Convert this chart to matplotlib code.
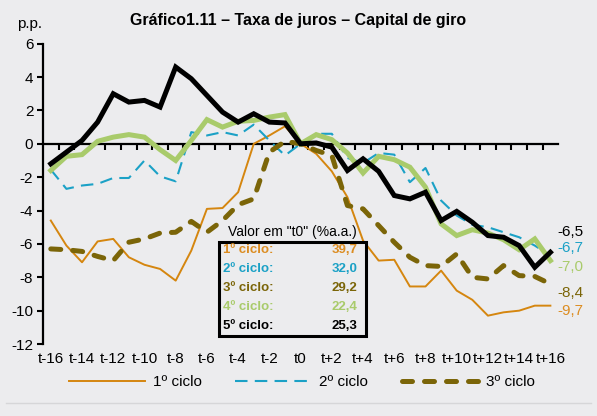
import matplotlib
matplotlib.use("Agg")
import matplotlib.pyplot as plt
from matplotlib.patches import Rectangle
from matplotlib.lines import Line2D
import numpy as np

# ---------------------------------------------------------------------------
# Data (p.p., deviation from value at t0)
# ---------------------------------------------------------------------------
periods = list(range(-16, 17))
tick_labels = ["t-16", "t-14", "t-12", "t-10", "t-8", "t-6", "t-4", "t-2", "t0",
               "t+2", "t+4", "t+6", "t+8", "t+10", "t+12", "t+14", "t+16"]

ciclo1 = [-4.6, -6.1, -7.1, -5.85, -5.7, -6.8, -7.25, -7.5, -8.2, -6.4, -3.9, -3.85,
          -2.9, 0.0, 0.5, 1.05, 0.0, -0.6, -1.65, -3.2, -5.8, -7.0, -6.95, -8.55,
          -8.55, -7.6, -8.8, -9.35, -10.3, -10.1, -10.0, -9.7, -9.7]
ciclo2 = [-1.55, -2.7, -2.5, -2.4, -2.05, -2.05, -1.0, -1.95, -2.25, 0.7, 0.5, 0.7,
          0.5, 1.15, 0.2, -0.7, 0.0, 0.6, 0.6, -0.85, -1.15, -0.55, -0.65, -2.3,
          -1.45, -3.4, -4.3, -4.85, -5.0, -5.3, -5.6, -6.1, -6.7]
ciclo3 = [-6.3, -6.35, -6.45, -6.75, -7.0, -5.9, -5.7, -5.35, -5.3, -4.65, -5.3, -4.6,
          -3.65, -3.3, -0.5, 0.15, 0.0, -0.4, -0.7, -3.7, -3.9, -4.9, -5.9, -6.8,
          -7.3, -7.35, -6.6, -8.0, -8.1, -7.3, -7.9, -7.95, -8.4]
ciclo4 = [-1.6, -0.75, -0.65, 0.15, 0.4, 0.55, 0.4, -0.35, -1.0, 0.2, 1.45, 1.0,
          1.35, 1.4, 1.6, 1.75, 0.0, 0.55, 0.25, -0.55, -1.75, -0.75, -0.95, -1.4,
          -2.6, -4.8, -5.5, -5.15, -5.35, -5.75, -6.35, -5.7, -7.0]
ciclo5 = [-1.2, -0.5, 0.2, 1.3, 3.0, 2.5, 2.6, 2.2, 4.6, 3.9, 2.9, 1.9,
          1.3, 1.8, 1.3, 1.25, 0.0, 0.05, -0.2, -1.6, -0.9, -1.65, -3.1, -3.3,
          -2.9, -4.6, -4.05, -4.7, -5.5, -5.6, -6.1, -7.4, -6.5]

names = ["1º ciclo", "2º ciclo", "3º ciclo", "4º ciclo", "5º ciclo"]
t0_values = ["39,7", "32,0", "29,2", "22,4", "25,3"]

# ---------------------------------------------------------------------------
# Style
# ---------------------------------------------------------------------------
COLORS = ["#D5860F", "#1BA1C6", "#7B6508", "#A9CB6B", "#000000"]
TEXT_COLORS = ["#DC8D22", "#1BA1C6", "#7B6508", "#A9CB6B", "#000000"]
END_LABEL_Y = [-10.05, -6.25, -8.95, -7.4, -5.3]   # label placement (layout only)
BG = "#ECECEE"

plt.rcParams["font.family"] = ["Liberation Sans", "DejaVu Sans"]
plt.rcParams["axes.unicode_minus"] = False

fig = plt.figure(figsize=(5.97, 4.16), dpi=100, facecolor=BG)
ax = fig.add_axes([0.072, 0.173, 0.863, 0.722])
ax.set_facecolor(BG)

series = [ciclo1, ciclo2, ciclo3, ciclo4, ciclo5]

l1, = ax.plot(periods, ciclo1, color=COLORS[0], lw=1.4, label=names[0], zorder=3)
l2, = ax.plot(periods, ciclo2, color=COLORS[1], lw=1.5, label=names[1], zorder=4,
              dashes=(6, 3.5))
l3, = ax.plot(periods, ciclo3, color=COLORS[2], lw=3.6, label=names[2], zorder=5,
              dashes=(2.0, 2.4), dash_capstyle="round")
ax.plot(periods, ciclo4, color=COLORS[3], lw=3.6, label=names[3], zorder=6,
        solid_joinstyle="miter")
ax.plot(periods, ciclo5, color=COLORS[4], lw=3.6, label=names[4], zorder=7,
        solid_joinstyle="miter")

# axes
ax.set_xlim(-16.5, 16.5)
ax.set_ylim(-12, 6)
ax.set_yticks(np.arange(-12, 7, 2))
ax.set_xticks(periods[::2])
ax.set_xticklabels(tick_labels)
ax.set_xticks(np.arange(-15.5, 16.0, 1.0), minor=True)

for s in ["right", "bottom"]:
    ax.spines[s].set_visible(False)
ax.spines["left"].set_linewidth(1.6)
ax.spines["top"].set_position(("data", 0))
ax.spines["top"].set_linewidth(1.6)
ax.spines["top"].set_zorder(2)

ax.tick_params(axis="y", direction="out", length=4, width=1.5, labelsize=11, pad=3)
ax.tick_params(axis="x", which="major", bottom=True, top=False, length=0,
               labelsize=11, pad=6)
ax.tick_params(axis="x", which="minor", bottom=False, top=True, direction="in",
               length=4, width=1.5)

fig.text(0.028, 0.942, "p.p.", fontsize=11, ha="left", va="center")
fig.text(0.5, 0.95, "Gráfico1.11 – Taxa de juros – Capital de giro",
         ha="center", va="center", fontsize=11.5, fontweight="bold")

# end-point labels
for vals, c, ly in zip(series, TEXT_COLORS, END_LABEL_Y):
    ax.text(16.45, ly, f"{vals[-1]:.1f}".replace(".", ","), color=c,
            fontsize=11, ha="left", va="center", clip_on=False)

# t0 values box
ax.text(0.485, 0.374, 'Valor em "t0" (%a.a.)', transform=ax.transAxes,
        fontsize=10, ha="center", va="center", zorder=9)
ax.add_patch(Rectangle((0.342, 0.028), 0.285, 0.313, transform=ax.transAxes,
                       facecolor=BG, edgecolor="black", lw=2.2, zorder=8))
row_y = np.linspace(0.314, 0.061, len(names))
for name, val, c, y in zip(names, t0_values, TEXT_COLORS, row_y):
    ax.text(0.35, y, name + ":", transform=ax.transAxes, color=c, fontsize=9.5,
            fontweight="bold", ha="left", va="center", zorder=9)
    ax.text(0.61, y, val, transform=ax.transAxes, color=c, fontsize=9.5,
            fontweight="bold", ha="right", va="center", zorder=9)

# legend (only the first three cycles appear)
leg = fig.legend(handles=[l1, l2, l3], labels=names[:3], ncol=3, loc="center",
                 bbox_to_anchor=(0.505, 0.082), frameon=False, fontsize=11,
                 handlelength=5.0, handletextpad=0.5, columnspacing=2.2)

fig.add_artist(Line2D([0.01, 0.99], [0.032, 0.032], color="#D6D6D8", lw=1.0))

fig.savefig("out.png", dpi=100, facecolor=BG)
